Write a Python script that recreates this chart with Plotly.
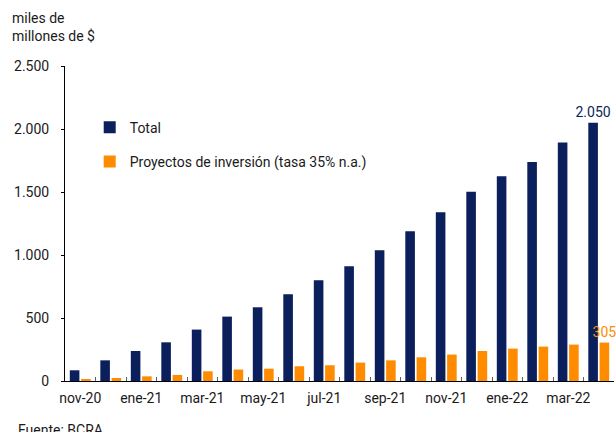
import plotly.graph_objects as go

months = ["nov-20", "dic-20", "ene-21", "feb-21", "mar-21", "abr-21", "may-21", "jun-21",
          "jul-21", "ago-21", "sep-21", "oct-21", "nov-21", "dic-21", "ene-22", "feb-22",
          "mar-22", "abr-22"]
total = [85, 164, 238, 307, 408, 511, 585, 688, 800, 911, 1038, 1189, 1340, 1501, 1625,
         1739, 1893, 2050]
proyectos = [10, 24, 37, 48, 77, 91, 98, 117, 125, 146, 164, 188, 210, 238, 257, 273, 289, 305]
tick_labels = ["nov-20", "", "ene-21", "", "mar-21", "", "may-21", "", "jul-21", "",
               "sep-21", "", "nov-21", "", "ene-22", "", "mar-22", ""]

NAVY = "#0A1F5B"
ORANGE = "#FF8C00"
FONT = "Roboto"


def fmt(v):
    return f"{v:,}".replace(",", ".")


total_text = [""] * (len(total) - 1) + [fmt(total[-1])]
proy_text = [""] * (len(proyectos) - 1) + [fmt(proyectos[-1])]

fig = go.Figure()
fig.add_trace(go.Bar(
    x=months, y=total, name="Total", marker_color=NAVY, marker_line_width=0,
    text=total_text, textposition="outside", cliponaxis=False, constraintext="none",
    textfont=dict(color=NAVY, size=14, family=FONT), legendgroup="a",
))
fig.add_trace(go.Bar(
    x=months, y=proyectos, name="Proyectos de inversión (tasa 35% n.a.)",
    marker_color=ORANGE, marker_line_width=0,
    text=proy_text, textposition="outside", cliponaxis=False, constraintext="none",
    textfont=dict(color=ORANGE, size=14, family=FONT), legendgroup="b",
))

fig.update_layout(
    width=616, height=432,
    margin=dict(l=65, r=2, t=66, b=51, pad=0, autoexpand=False),
    plot_bgcolor="white", paper_bgcolor="white",
    font=dict(family=FONT, size=14, color="#1a1a1a"),
    separators=",.",
    barmode="group", bargap=0.26, bargroupgap=0.15,
    showlegend=True,
    legend=dict(x=0.045, y=0.855, xanchor="left", yanchor="top",
                font=dict(size=14, family=FONT, color="#1a1a1a"),
                tracegroupgap=13, bgcolor="rgba(0,0,0,0)", traceorder="grouped"),
)
fig.update_xaxes(
    type="category", tickmode="array", tickvals=months, ticktext=tick_labels,
    tickson="boundaries", ticks="inside", ticklen=4, tickcolor="#606060", tickwidth=1,
    tickangle=0, automargin=False, ticklabelstandoff=4,
    showline=True, linecolor="black", linewidth=1, showgrid=False,
    tickfont=dict(size=14, family=FONT, color="#1a1a1a"),
)
fig.update_yaxes(
    range=[0, 2500], dtick=500, tickformat=",d", automargin=False, ticklabelstandoff=9,
    showline=True, linecolor="black", linewidth=1, showgrid=False, zeroline=False,
    ticks="outside", ticklen=3, tickcolor="black",
    tickfont=dict(size=14, family=FONT, color="#1a1a1a"),
)
fig.add_annotation(
    text="miles de<br>millones de $", xref="paper", yref="paper",
    x=-0.1, y=1.185, xanchor="left", yanchor="top", align="left", showarrow=False,
    font=dict(size=14, family=FONT, color="#1a1a1a"),
)
fig.add_annotation(
    text="Fuente: BCRA", xref="paper", yref="paper",
    x=-0.09, y=-0.157, xanchor="left", yanchor="middle", align="left", showarrow=False,
    font=dict(size=14, family=FONT, color="#1a1a1a"),
)

fig.write_html("out.html", config={"displayModeBar": False},
               post_script="document.body.style.margin='0';")
